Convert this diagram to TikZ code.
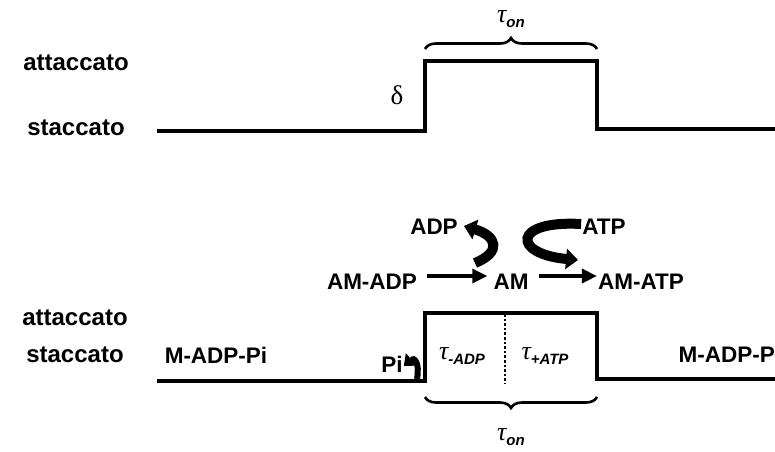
\documentclass[tikz,border=0pt]{standalone}
\usepackage{fontspec}
\setmainfont{Liberation Sans}
\newfontfamily\seriffont{Liberation Serif}
\usetikzlibrary{arrows.meta,decorations.pathreplacing}
\tikzset{
  wave/.style={line width=4.5pt, line join=miter, line cap=butt},
  lab/.style={font=\fontsize{24}{26}\selectfont\bfseries, inner sep=0pt},
  chem/.style={font=\fontsize{22.5}{24}\selectfont\bfseries, inner sep=0pt},
  tau/.style={inner sep=0pt},
  brc/.style={decorate, decoration={brace, amplitude=11pt}, line width=2.6pt},
  rx/.style={line width=3.2pt, -{Triangle[length=15pt,width=14pt]}},
  curlarrow/.style={line width=10pt, -{Triangle[length=12pt,width=20pt]}},
}
\newcommand{\tauon}{{\seriffont\itshape\fontsize{26}{28}\selectfont\char"03C4}\raisebox{-5pt}{\fontsize{15}{16}\selectfont\bfseries\itshape on}}
\begin{document}
\begin{tikzpicture}[x=1pt,y=-1pt]
\useasboundingbox (0,0) rectangle (775,451);
% top trace
\node[lab] (a1) at (76,63) {attaccato};
\node[lab] (s1) at (76,128) {staccato};
\draw[wave] (157,131) -- (425,131) -- (425,61) -- (597,61) -- (597,129) -- (775,129);
\draw[brc] (425,49) -- (597,49);
\node[tau] (ton1) at (511,19) {\tauon};
\node[tau] (delta) at (397,95) {\seriffont\fontsize{27}{28}\selectfont\char"03B4};
% bottom trace
\node[lab] (a2) at (75,318) {attaccato};
\node[lab] (s2) at (75,355) {staccato};
\draw[wave] (157,381) -- (425,381) -- (425,313) -- (597,313) -- (597,379) -- (775,379);
\draw[line width=2.6pt, dotted] (505,314) -- (505,384);
\draw[brc] (597,397) -- (425,397);
\node[tau] (ton2) at (511,437) {\tauon};
\node[tau] (tadp) at (462,356) {{\seriffont\itshape\fontsize{26}{28}\selectfont\char"03C4}\raisebox{-5pt}{\fontsize{15}{16}\selectfont\bfseries\itshape -ADP}};
\node[tau] (tatp) at (545,356) {{\seriffont\itshape\fontsize{26}{28}\selectfont\char"03C4}\raisebox{-5pt}{\fontsize{15}{16}\selectfont\bfseries\itshape +ATP}};
\node[chem] (mleft) at (216,355) {M-ADP-Pi};
\node[chem, anchor=east] (mright) at (775,355) {M-ADP-P};
\node[chem] (pi) at (392,364) {Pi};
% reaction scheme
\node[chem] (amadp) at (372,282) {AM-ADP};
\node[chem] (am) at (511,282) {AM};
\node[chem] (amatp) at (641,282) {AM-ATP};
\node[chem] (adp) at (434,227) {ADP};
\node[chem] (atp) at (604,227) {ATP};
\draw[rx] ([xshift=10pt,yshift=6pt]amadp.east) -- ([xshift=-6pt,yshift=6pt]am.west);
\draw[rx] ([xshift=10pt,yshift=6pt]am.east) -- ([xshift=-1pt,yshift=6pt]amatp.west);
\coordinate (adpstart) at (475,263);
\draw[curlarrow] (adpstart) .. controls (502,252) and (497,236) .. ([xshift=6pt,yshift=1pt]adp.east);
\draw[curlarrow] ([xshift=-1pt,yshift=3pt]atp.west) .. controls (512,220) and (512,254) .. (578,260);
\coordinate (pistart) at (417,379);
\draw[line width=6pt, -{Triangle[length=10pt,width=16pt]}] (pistart) .. controls (420,362) and (414,357) .. ([xshift=1pt,yshift=-2pt]pi.east);
\end{tikzpicture}
\end{document}
